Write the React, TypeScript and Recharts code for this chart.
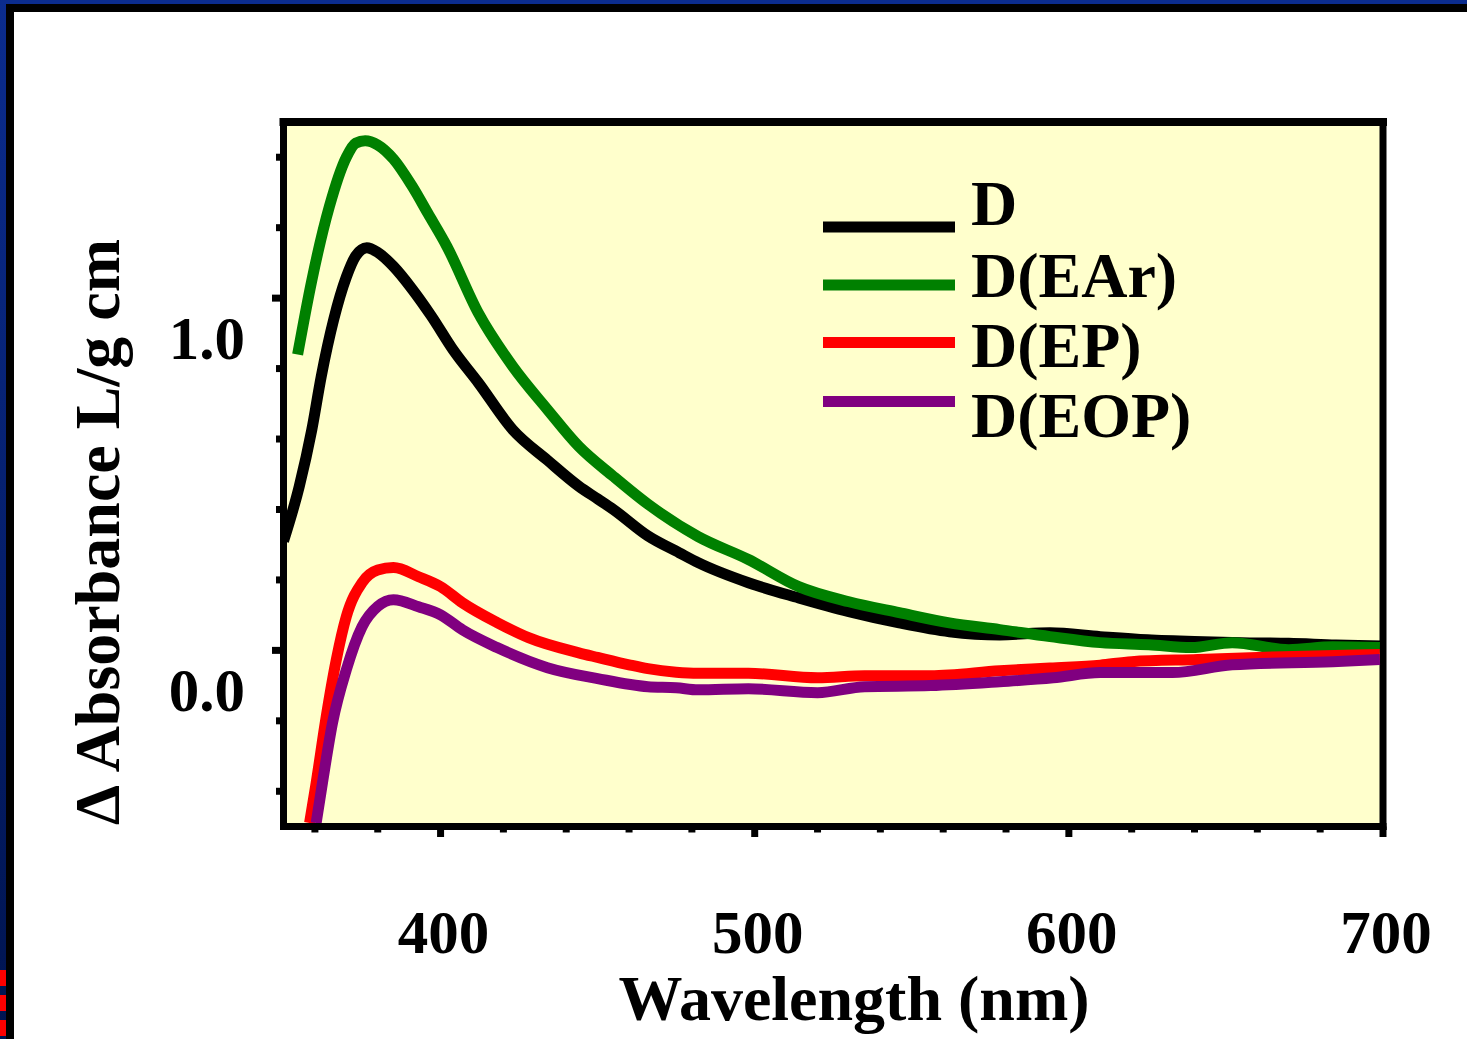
import React from 'react';
import { LineChart, Line, XAxis, YAxis, CartesianGrid, Legend, ReferenceLine } from 'recharts';

// ---- data (wavelength in nm, delta absorbance in L/g cm) ----
const dWl = [350, 355, 359, 362, 366, 370, 373, 376.5, 380, 385, 391, 397, 404, 412, 423, 434, 444, 450, 455, 466, 476, 482, 498, 514, 530, 546, 562, 578, 594, 610, 625, 640, 655, 670, 685, 700];
const dVal = [0.31, 0.465, 0.626, 0.777, 0.94, 1.06, 1.12, 1.143, 1.13, 1.09, 1.025, 0.95, 0.853, 0.76, 0.626, 0.54, 0.466, 0.43, 0.40, 0.325, 0.277, 0.249, 0.192, 0.149, 0.11, 0.078, 0.053, 0.044, 0.05, 0.039, 0.03, 0.025, 0.022, 0.02, 0.015, 0.012];

const earWl = [354.5, 359, 364.6, 370, 373, 376, 380, 385, 391, 396, 402, 412, 423, 434, 444, 455, 466, 482, 498, 514, 530, 546, 562, 578, 594, 610, 625.5, 639, 652, 670, 684, 699];
const earVal = [0.84, 1.05, 1.26, 1.40, 1.44, 1.447, 1.435, 1.395, 1.317, 1.24, 1.147, 0.958, 0.806, 0.684, 0.579, 0.494, 0.415, 0.323, 0.258, 0.181, 0.138, 0.107, 0.078, 0.059, 0.039, 0.022, 0.016, 0.008, 0.022, 0.002, 0.01, 0.008];

const epWl = [358.3, 360.4, 363.6, 366.8, 370, 375, 380, 385, 393, 400, 407, 418, 428, 444, 450, 460, 466, 475, 482, 498, 520, 535, 556, 578, 594, 610, 620, 641, 668, 699];
const epVal = [-0.49, -0.376, -0.188, -0.027, 0.096, 0.192, 0.228, 0.235, 0.209, 0.181, 0.135, 0.079, 0.036, -0.007, -0.02, -0.041, -0.052, -0.062, -0.065, -0.065, -0.078, -0.072, -0.072, -0.058, -0.05, -0.042, -0.032, -0.026, -0.018, -0.012];

const eopWl = [360.4, 362.4, 365.6, 370, 375, 380, 385, 393, 400, 407, 418, 434, 450, 466, 475, 482, 498, 520, 535, 556, 578, 595, 610, 633, 652, 684, 699];
const eopVal = [-0.49, -0.376, -0.206, -0.055, 0.067, 0.125, 0.144, 0.124, 0.101, 0.058, 0.008, -0.049, -0.08, -0.103, -0.106, -0.112, -0.109, -0.12, -0.103, -0.1, -0.089, -0.078, -0.063, -0.063, -0.041, -0.032, -0.026];

const seriesNames = ['D', 'D(EAr)', 'D(EP)', 'D(EOP)'];
const seriesColors = ['#000000', '#008000', '#FF0000', '#800080'];

const xTicks = [360, 380, 400, 420, 440, 460, 480, 500, 520, 540, 560, 580, 600, 620, 640, 660, 680, 700];
const xMajor = [400, 500, 600, 700];
const yTicks = [-0.4, -0.2, 0, 0.2, 0.4, 0.6, 0.8, 1.0, 1.2, 1.4];
const yMajor = [0, 1.0];
const yMajorLabels = ['0.0', '1.0'];

const toPoints = (wl: number[], v: number[]) => wl.map((x, i) => ({ x, y: v[i] }));
const seriesData = [toPoints(dWl, dVal), toPoints(earWl, earVal), toPoints(epWl, epVal), toPoints(eopWl, eopVal)];

const FONT = '"Liberation Serif", "Times New Roman", serif';

const XTick = (props: any) => {
  const { x, y, payload } = props;
  const major = xMajor.includes(payload.value);
  return (
    <g>
      <line x1={x} x2={x} y1={y} y2={y + (major ? 10.5 : 6)} stroke="#000" strokeWidth={7} />
      {major && (
        <text x={x + 3} y={y + 126} textAnchor="middle" fontFamily={FONT} fontSize={61} fontWeight="bold" fill="#000">
          {payload.value}
        </text>
      )}
    </g>
  );
};

const YTick = (props: any) => {
  const { x, y, payload } = props;
  const idx = yMajor.findIndex((m) => Math.abs(m - payload.value) < 1e-9);
  const major = idx >= 0;
  return (
    <g>
      <line x1={x} x2={x - (major ? 11.5 : 7.5)} y1={y} y2={y} stroke="#000" strokeWidth={7} />
      {major && (
        <text x={x - 38.5} y={y + 61} textAnchor="end" fontFamily={FONT} fontSize={61} fontWeight="bold" fill="#000">
          {yMajorLabels[idx]}
        </text>
      )}
    </g>
  );
};

const LegendBox = () => {
  const lineY = [47, 105, 162.5, 221.5];
  const textY = [45, 117, 187, 257];
  return (
    <svg width={420} height={290} style={{ display: 'block', overflow: 'visible' }}>
      {seriesNames.map((n, i) => (
        <g key={n}>
          <line x1={23} x2={155} y1={lineY[i]} y2={lineY[i]} stroke={seriesColors[i]} strokeWidth={11} />
          <text x={171} y={textY[i]} fontFamily={FONT} fontSize={64} fontWeight="bold" fill="#000">
            {n}
          </text>
        </g>
      ))}
    </svg>
  );
};

export default function App() {
  return (
    <div style={{ position: 'absolute', left: 0, top: 0, width: 1467, height: 1039, background: '#fff', overflow: 'hidden' }}>
      {/* page frame */}
      <div style={{ position: 'absolute', left: 0, top: 0, width: 1467, height: 4, background: '#0B2C8E' }} />
      <div style={{ position: 'absolute', left: 6, top: 4, width: 1461, height: 8, background: '#000' }} />
      <div style={{ position: 'absolute', left: 0, top: 0, width: 6, height: 1039, background: 'linear-gradient(#0B2C8E, #001450)' }} />
      <div style={{ position: 'absolute', left: 6, top: 4, width: 8, height: 1035, background: '#000' }} />
      <div style={{ position: 'absolute', left: 0, top: 970, width: 6, height: 16, background: '#FF0000' }} />
      <div style={{ position: 'absolute', left: 0, top: 995, width: 6, height: 16, background: '#FF0000' }} />
      <div style={{ position: 'absolute', left: 0, top: 1020, width: 6, height: 16, background: '#FF0000' }} />

      <div style={{ position: 'absolute', left: 0, top: 0 }}>
        <LineChart width={1467} height={1039} margin={{ top: 122, right: 84, bottom: 152.5, left: 223.5 }}>
          <CartesianGrid fill="#FFFFCC" horizontal={false} vertical={false} />
          <XAxis
            type="number"
            dataKey="x"
            domain={[350, 700]}
            allowDataOverflow
            ticks={xTicks}
            interval={0}
            height={60}
            tickSize={0}
            tickMargin={0}
            tickLine={false}
            tick={<XTick />}
            axisLine={{ stroke: '#000', strokeWidth: 7, strokeLinecap: 'square' }}
            label={{
              content: () => (
                <text x={854} y={1020} textAnchor="middle" fontFamily={FONT} fontSize={64} fontWeight="bold" fill="#000">
                  Wavelength (nm)
                </text>
              ),
            }}
          />
          <YAxis
            type="number"
            domain={[-0.5, 1.5]}
            allowDataOverflow
            ticks={yTicks}
            interval={0}
            width={60}
            tickSize={0}
            tickMargin={0}
            tickLine={false}
            tick={<YTick />}
            axisLine={{ stroke: '#000', strokeWidth: 7, strokeLinecap: 'square' }}
            label={{
              content: () => (
                <text
                  transform="translate(119, 532) rotate(-90)"
                  textAnchor="middle"
                  fontFamily={FONT}
                  fontSize={64}
                  fontWeight="bold"
                  fill="#000"
                >
                  Δ Absorbance L/g cm
                </text>
              ),
            }}
          />
          <ReferenceLine y={1.5} stroke="#000" strokeWidth={8} strokeLinecap="square" />
          <ReferenceLine x={700} stroke="#000" strokeWidth={7} strokeLinecap="square" />
          {seriesData.map((d, i) => (
            <Line
              key={seriesNames[i]}
              data={d}
              dataKey="y"
              name={seriesNames[i]}
              type="monotone"
              stroke={seriesColors[i]}
              strokeWidth={11}
              dot={false}
              activeDot={false}
              isAnimationActive={false}
            />
          ))}
          <Legend
            layout="vertical"
            align="center"
            verticalAlign="middle"
            content={() => <LegendBox />}
            wrapperStyle={{ position: 'absolute', left: 800, top: 180, width: 420, height: 290 }}
          />
        </LineChart>
      </div>
    </div>
  );
}
